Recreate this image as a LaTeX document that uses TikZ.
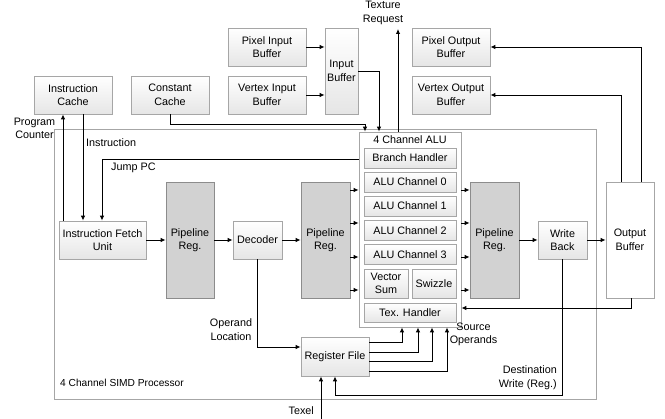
\documentclass[tikz,border=0pt]{standalone}
\usepackage{fontspec}
\setmainfont{Liberation Sans}
\usetikzlibrary{arrows.meta}
\definecolor{bordergray}{HTML}{A6A6A6}
\definecolor{regfill}{HTML}{D2D2D2}
\definecolor{regborder}{HTML}{8C8C8C}
\begin{document}
\begin{tikzpicture}[x=1pt,y=-1pt, font=\fontsize{10.8}{13.5}\selectfont,
 box/.style={draw=bordergray, top color=white, bottom color=gray!20, align=center, inner sep=0pt, line width=0.8pt},
 preg/.style={draw=regborder, fill=regfill, align=center, inner sep=0pt, line width=0.8pt},
 wbox/.style={draw=bordergray, fill=white, align=center, inner sep=0pt, line width=0.8pt},
 arr/.style={-{Latex[length=5pt,width=4.5pt]}, line width=0.9pt},
 lbl/.style={align=center, inner sep=0pt}]
\useasboundingbox (0,0) rectangle (665,419);
% outer SIMD box
\node[draw=bordergray, line width=0.8pt, minimum width=542pt, minimum height=270pt, inner sep=0pt] (simd) at (325,264) {};
\node[lbl, anchor=west, font=\fontsize{10.2}{13}\selectfont] (simdlbl) at (60,383) {4 Channel SIMD Processor};
% top boxes
\node[box, minimum width=78pt, minimum height=38pt] (icache) at (73,95) {Instruction\\Cache};
\node[box, minimum width=78pt, minimum height=38pt] (ccache) at (170,95) {Constant\\Cache};
\node[box, minimum width=78pt, minimum height=38pt] (pin) at (267,47) {Pixel Input\\Buffer};
\node[box, minimum width=78pt, minimum height=38pt] (vin) at (267,95) {Vertex Input\\Buffer};
\node[box, minimum width=33pt, minimum height=86pt] (inbuf) at (341.5,71) {Input\\Buffer};
\node[box, minimum width=78pt, minimum height=38pt] (pout) at (451,47) {Pixel Output\\Buffer};
\node[box, minimum width=78pt, minimum height=38pt] (vout) at (451,95) {Vertex Output\\Buffer};
% pipeline
\node[box, minimum width=87pt, minimum height=38pt] (ifu) at (102.5,240) {Instruction Fetch\\Unit};
\node[preg, minimum width=48pt, minimum height=116pt] (preg1) at (190,240) {Pipeline\\Reg.};
\node[box, minimum width=49pt, minimum height=38pt] (dec) at (257.5,240) {Decoder};
\node[preg, minimum width=49pt, minimum height=116pt] (preg2) at (325.5,240) {Pipeline\\Reg.};
\node[wbox, minimum width=102pt, minimum height=195pt] (alu) at (410,229.5) {};
\node[lbl] (alutitle) at (410,140) {4 Channel ALU};
\node[box, minimum width=92pt, minimum height=20pt] (branch) at (410,158) {Branch Handler};
\node[box, minimum width=92pt, minimum height=20pt] (ch0) at (410,182) {ALU Channel 0};
\node[box, minimum width=92pt, minimum height=20pt] (ch1) at (410,206) {ALU Channel 1};
\node[box, minimum width=92pt, minimum height=20pt] (ch2) at (410,230.5) {ALU Channel 2};
\node[box, minimum width=92pt, minimum height=20pt] (ch3) at (410,254.5) {ALU Channel 3};
\node[box, minimum width=44pt, minimum height=29pt, font=\fontsize{10.8}{13}\selectfont] (vsum) at (386,283.5) {Vector\\Sum};
\node[box, minimum width=44pt, minimum height=29pt] (swz) at (434,283.5) {Swizzle};
\node[box, minimum width=92pt, minimum height=19pt] (tex) at (410,312.5) {Tex. Handler};
\node[preg, minimum width=49pt, minimum height=116pt] (preg3) at (494.5,240) {Pipeline\\Reg.};
\node[box, minimum width=49pt, minimum height=38pt] (wb) at (562.5,240) {Write\\Back};
\node[wbox, minimum width=48pt, minimum height=116pt] (obuf) at (630,240) {Output\\Buffer};
\node[box, minimum width=68pt, minimum height=39pt] (regfile) at (335,356.5) {Register File};
% labels
\node[lbl] (pclbl) at (34.5,128.5) {Program\\Counter};
\node[lbl, anchor=west] (inslbl) at (86,143) {Instruction};
\node[lbl, anchor=west] (jpclbl) at (111,167.5) {Jump PC};
\node[lbl] (ollbl) at (231,329.5) {Operand\\Location};
\node[lbl] (solbl) at (473.5,334.5) {Source\\Operands};
\node[lbl, align=right, anchor=east] (dwlbl) at (557,377.5) {Destination\\Write (Reg.)};
\node[lbl] (texreq) at (383,13) {Texture\\Request};
\node[lbl, anchor=east] (texel) at (314,411) {Texel};
% helper coordinates
\coordinate (pc) at (63,0);
\coordinate (ins) at (83,0);
\coordinate (jp) at (102,159);
\coordinate (cc) at (365,124);
\coordinate (ib) at (379,71);
\coordinate (tr) at (398,29);
\coordinate (ob) at (631,308);
\coordinate (o1) at (621,0);
\coordinate (o2) at (641,0);
\coordinate (ol) at (0,347);
\coordinate (dw) at (0,395);
\coordinate (tx) at (321,419);
% connectors
\draw[arr] (ifu.north -| pc) -- (icache.south -| pc);
\draw[arr] (icache.south -| ins) -- (ifu.north -| ins);
\draw[arr] (alu.west |- jp) -| (ifu.north -| jp);
\draw[arr] (ccache.south) |- (cc) -- (alu.north -| cc);
\draw[arr] (inbuf.east |- ib) -| (alu.north -| ib);
\draw[arr] (alu.north -| tr) -- (tr);
\draw[arr] (pin.east) -- (inbuf.west |- pin.east);
\draw[arr] (vin.east) -- (inbuf.west |- vin.east);
\draw[arr] (ifu.east) -- (preg1.west);
\draw[arr] (preg1.east) -- (dec.west);
\draw[arr] (dec.east) -- (preg2.west);
\foreach \y [count=\i] in {190,223,257,290} {
  \coordinate (la\i) at (0,\y);
  \draw[arr] (preg2.east |- la\i) -- (alu.west |- la\i);
  \draw[arr] (alu.east |- la\i) -- (preg3.west |- la\i);
}
\draw[arr] (preg3.east) -- (wb.west);
\draw[arr] (wb.east) -- (obuf.west);
\draw[arr] (obuf.south -| ob) |- (alu.east |- ob);
\draw[arr] (obuf.north -| o1) |- (vout.east);
\draw[arr] (obuf.north -| o2) |- (pout.east);
\draw[arr] (dec.south) |- (regfile.west |- ol);
\foreach \y/\x [count=\i] in {342/402,352/418,361/432,371/447} {
  \coordinate (rf\i) at (\x,\y);
  \draw[arr] (regfile.east |- rf\i) -| (alu.south -| rf\i);
}
\draw[arr] (wb.south) -- (wb.south |- dw) -| (regfile.south);
\draw[arr] (tx) -- (regfile.south -| tx);
\end{tikzpicture}
\end{document}
